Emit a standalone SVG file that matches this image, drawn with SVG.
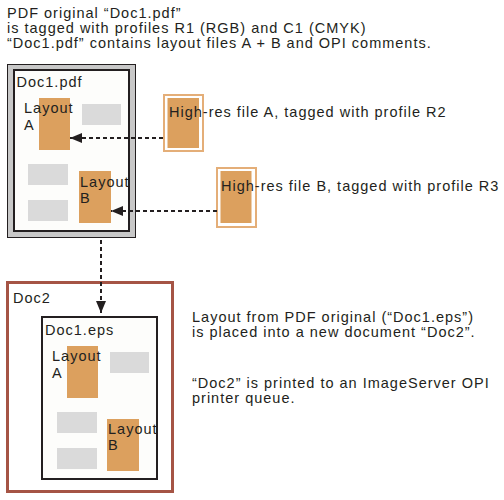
<svg xmlns="http://www.w3.org/2000/svg" width="504" height="500" viewBox="0 0 504 500">
<style>
text{font-family:"Liberation Sans",Arial,sans-serif;fill:#231f20;font-size:14.5px;letter-spacing:1px}
.or{fill:#dca05e}
.gr{fill:#dadada}
.page{fill:#fdfdfb;stroke:#231f20;stroke-width:2}
.hr{fill:#fff;stroke:#e4ae78;stroke-width:2}
.c{fill:none;stroke:#231f20;stroke-width:2;stroke-dasharray:4 3}
</style>
<defs>
<marker id="ah" markerWidth="12" markerHeight="10" refX="12" refY="5" orient="auto" markerUnits="userSpaceOnUse">
<path d="M0,0 L12,5 L0,10 Z" fill="#231f20"/>
</marker>
</defs>
<rect width="504" height="500" fill="#fff"/>
<g id="caption-top">
<text x="7" y="17.5">PDF original “Doc1.pdf”</text>
<text x="7" y="32.5">is tagged with profiles R1 (RGB) and C1 (CMYK)</text>
<text x="7" y="47.5">“Doc1.pdf” contains layout files A + B and OPI comments.</text>
</g>
<g id="doc1pdf">
<rect x="7.5" y="64.5" width="128" height="173" fill="#c8c8c8" stroke="#231f20" stroke-width="1"/>
<rect class="page" x="14" y="70" width="115" height="161"/>
<text x="16.5" y="87">Doc1.pdf</text>
<rect class="or" x="39" y="98" width="31" height="52"/>
<text x="24" y="113">Layout</text>
<text x="24" y="130">A</text>
<rect class="gr" x="82" y="104" width="39" height="21"/>
<rect class="gr" x="28" y="164" width="40" height="21"/>
<rect class="gr" x="28" y="200" width="40" height="21"/>
<rect class="or" x="79" y="171" width="32" height="52"/>
<text x="80" y="187">Layout</text>
<text x="80" y="203">B</text>
</g>
<g id="hires-a">
<rect class="hr" x="164" y="95" width="39" height="56"/>
<rect class="or" x="167.5" y="98" width="31.5" height="50"/>
<text x="169" y="117">High-res file A, tagged with profile R2</text>
</g>
<g id="hires-b">
<rect class="hr" x="217" y="168" width="39" height="59"/>
<rect class="or" x="220.5" y="171" width="31" height="52"/>
<text x="221" y="191">High-res file B, tagged with profile R3</text>
</g>
<g id="doc2">
<rect x="7.5" y="282.5" width="165" height="209" fill="#fff" stroke="#a55445" stroke-width="3"/>
<text x="13" y="303">Doc2</text>
<rect class="page" x="42" y="317" width="115" height="162"/>
<text x="45" y="335">Doc1.eps</text>
<rect class="or" x="67" y="346" width="31" height="52"/>
<text x="52" y="361">Layout</text>
<text x="52" y="378">A</text>
<rect class="gr" x="110" y="352" width="39" height="21"/>
<rect class="gr" x="57" y="412" width="40" height="21"/>
<rect class="gr" x="57" y="448" width="40" height="21"/>
<rect class="or" x="107" y="419" width="32" height="52"/>
<text x="108" y="434">Layout</text>
<text x="108" y="450">B</text>
</g>
<g id="caption-right">
<text x="192" y="322">Layout from PDF original (“Doc1.eps”)</text>
<text x="192" y="337">is placed into a new document “Doc2”.</text>
<text x="192" y="388">“Doc2” is printed to an ImageServer OPI</text>
<text x="192" y="403">printer queue.</text>
</g>
<g id="connectors">
<path class="c" d="M163,138 L70,138" marker-end="url(#ah)"/>
<path class="c" d="M217,211 L111,211" marker-end="url(#ah)"/>
<path class="c" d="M101,240 L101,313" marker-end="url(#ah)"/>
</g>
</svg>
